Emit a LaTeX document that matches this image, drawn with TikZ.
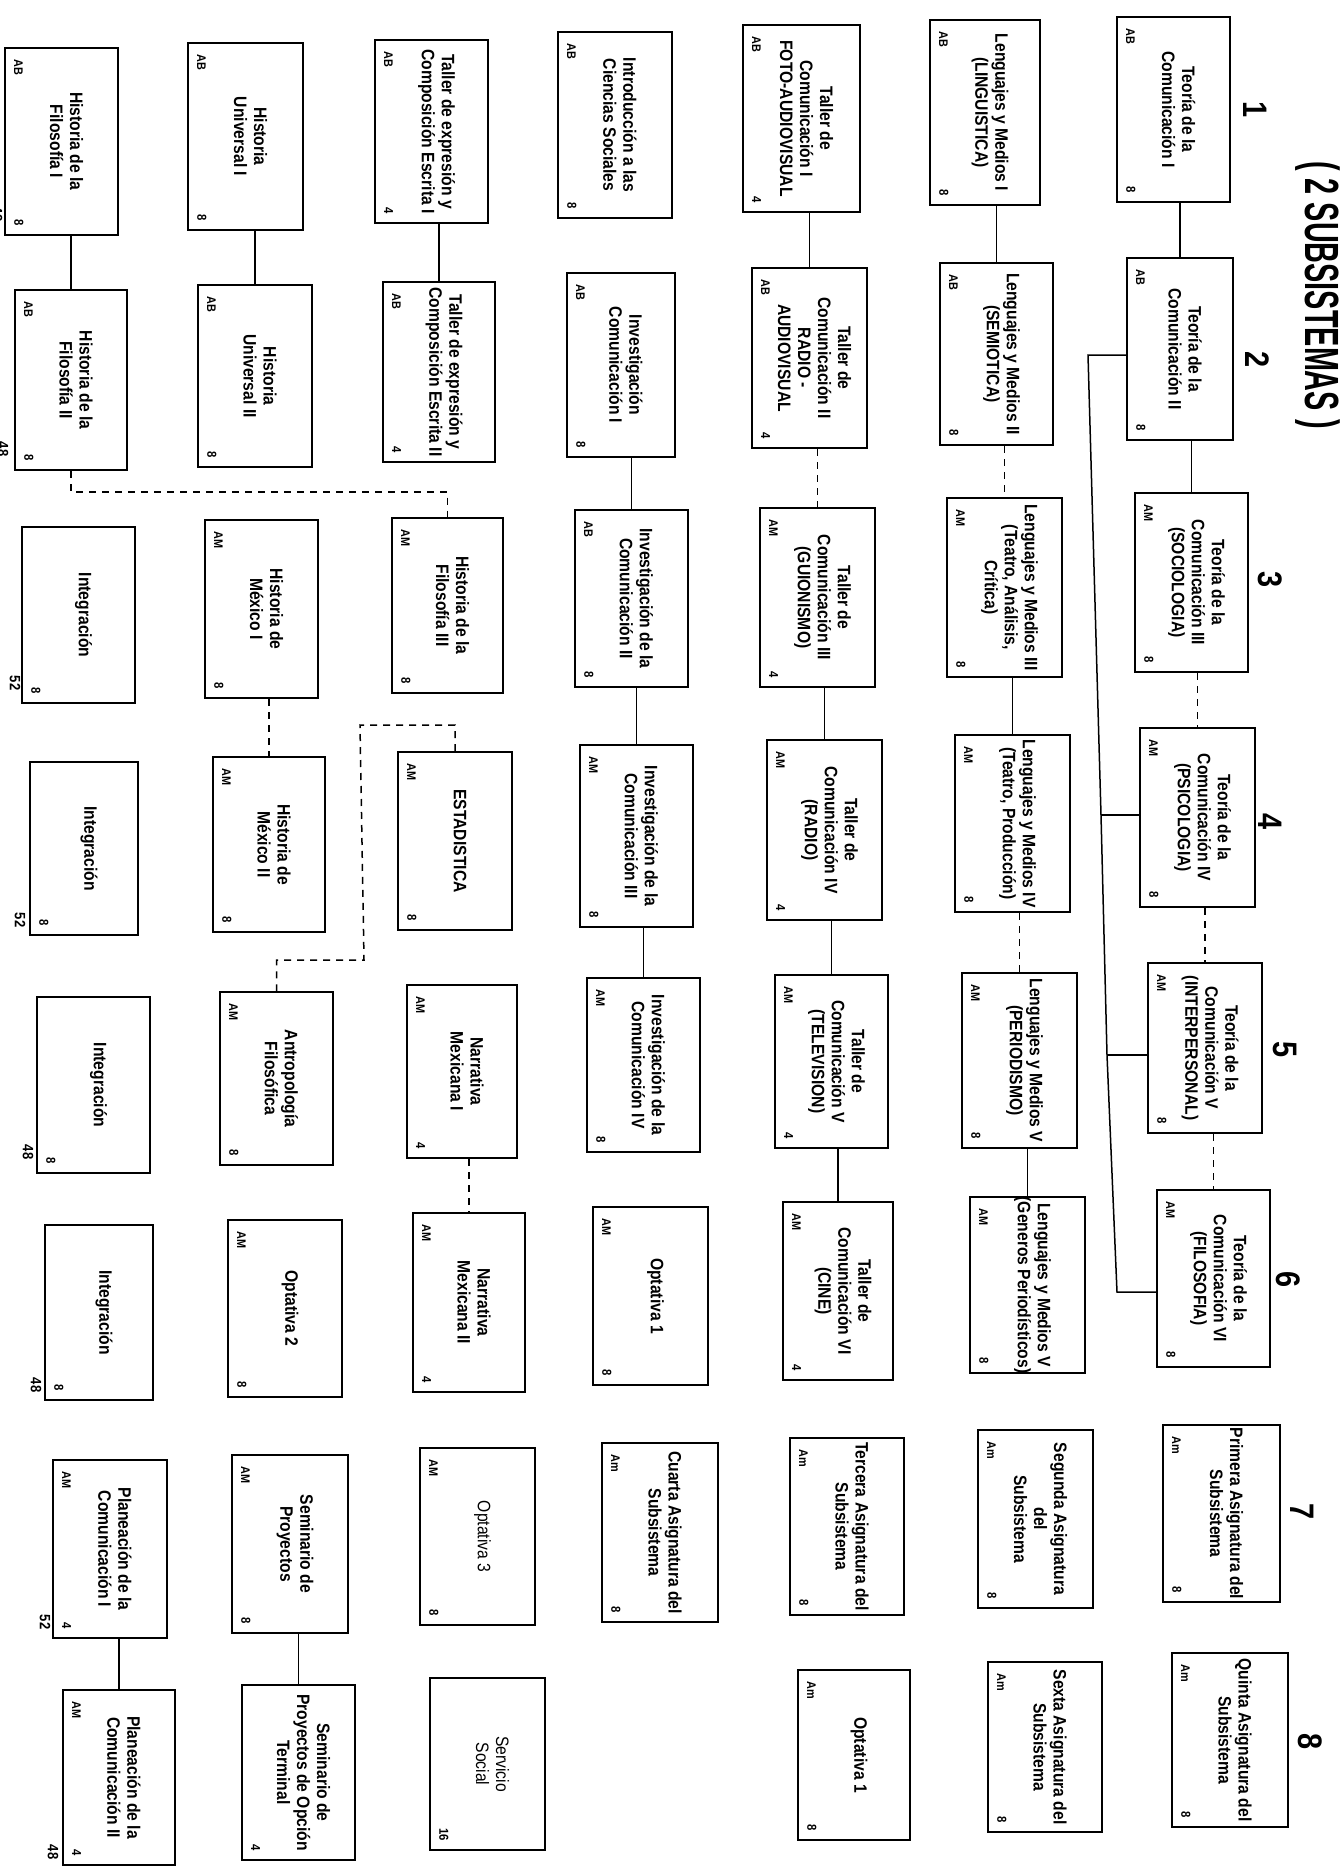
\documentclass[tikz,border=0pt]{standalone}
\usepackage{fontspec}
\setmainfont{Liberation Sans}
\newfontfamily\cond[FakeStretch=0.87]{Liberation Sans}
\newfontfamily\headf[FakeStretch=0.6]{Liberation Sans}
\newfontfamily\numf[FakeStretch=0.85]{Liberation Sans}
\usetikzlibrary{calc}
\newcommand\crs[8]{%
  \node[box, minimum width={(#4-#2)*1pt}, minimum height={(#5-#3)*1pt}] (#1) at ({(#2+#4)/2},{(#3+#5)/2}) {};
  \node[ttl] (#1t) at ([xshift=5pt]#1.center) {#6};
  \node[code] (#1c) at ([xshift=10pt,yshift=-12pt]#1.north west) {#7};
  \node[cred] (#1n) at ([xshift=10pt,yshift=10pt]#1.south west) {#8};}
\begin{document}
\begin{tikzpicture}[x=1pt,y=-1pt,
 box/.style={draw, line width=2pt, inner sep=0pt, fill=white},
 ttl/.style={rotate=-90, align=center, inner sep=0pt, font=\cond\bfseries\fontsize{18}{20}\selectfont},
 code/.style={rotate=-90, anchor=south west, inner sep=0pt, font=\cond\bfseries\fontsize{12.5}{13}\selectfont},
 cred/.style={rotate=-90, anchor=south east, inner sep=0pt, font=\cond\bfseries\fontsize{13}{13}\selectfont},
 tot/.style={rotate=-90, inner sep=0pt, font=\cond\bfseries\fontsize{15}{15}\selectfont},
 sem/.style={rotate=-90, inner sep=0pt, font=\numf\bfseries\fontsize{34}{34}\selectfont},
 conn/.style={line width=1.5pt},
 dconn/.style={line width=1.5pt, dash pattern=on 7pt off 6pt}]
\fill[white] (0,0) rectangle (1340,1866);
\useasboundingbox (0,0) rectangle (1340,1866);

% heading and semester numbers
\node[rotate=-90, inner sep=0pt, font=\headf\bfseries\fontsize{48}{48}\selectfont] (head) at (1318,295) {( 2 SUBSISTEMAS )};
\node[sem] (s1) at (1255,110) {1};
\node[sem] (s2) at (1257,360) {2};
\node[sem] (s3) at (1270,580) {3};
\node[sem] (s4) at (1270,822) {4};
\node[sem] (s5) at (1285,1050) {5};
\node[sem] (s6) at (1288,1280) {6};
\node[sem] (s7) at (1302,1512) {7};
\node[sem] (s8) at (1310,1742) {8};

% Teoria column
\crs{T1}{1117}{17}{1230}{202}{Teoría de la\\Comunicación I}{AB}{8}
\crs{T2}{1127}{258}{1233}{440}{Teoría de la\\Comunicación II}{AB}{8}
\crs{T3}{1135}{493}{1248}{672}{Teoría de la\\Comunicación III\\(SOCIOLOGIA)}{AM}{8}
\crs{T4}{1140}{728}{1255}{907}{Teoría de la\\Comunicación IV\\(PSICOLOGIA)}{AM}{8}
\crs{T5}{1148}{963}{1262}{1133}{Teoría de la\\Comunicación V\\(INTERPERSONAL)}{AM}{8}
\crs{T6}{1157}{1190}{1270}{1367}{Teoría de la\\Comunicación VI\\(FILOSOFIA)}{AM}{8}
\crs{T7}{1163}{1425}{1280}{1602}{Primera Asignatura del\\Subsistema}{Am}{8}
\crs{T8}{1172}{1653}{1288}{1827}{Quinta Asignatura del\\Subsistema}{Am}{8}

% Lenguajes column
\crs{L1}{930}{20}{1040}{205}{Lenguajes y Medios I\\(LINGUISTICA)}{AB}{8}
\crs{L2}{940}{263}{1053}{445}{Lenguajes y Medios II\\(SEMIOTICA)}{AB}{8}
\crs{L3}{947}{498}{1062}{677}{Lenguajes y Medios III\\(Teatro, Análisis,\\Crítica)}{AM}{8}
\crs{L4}{955}{735}{1070}{912}{Lenguajes y Medios IV\\(Teatro, Producción)}{AM}{8}
\crs{L5}{962}{973}{1077}{1148}{Lenguajes y Medios V\\(PERIODISMO)}{AM}{8}
\crs{L6}{970}{1197}{1085}{1373}{Lenguajes y Medios V\\(Generos Periodísticos)}{AM}{8}
\crs{L7}{978}{1430}{1093}{1608}{Segunda Asignatura\\del\\Subsistema}{Am}{8}
\crs{L8}{988}{1662}{1102}{1832}{Sexta Asignatura del\\Subsistema}{Am}{8}

% Taller column
\crs{W1}{743}{25}{860}{212}{Taller de\\Comunicación I\\FOTO-AUDIOVISUAL}{AB}{4}
\crs{W2}{752}{268}{867}{448}{Taller de\\Comunicación II\\RADIO -\\AUDIOVISUAL}{AB}{4}
\crs{W3}{760}{508}{875}{687}{Taller de\\Comunicación III\\(GUIONISMO)}{AM}{4}
\crs{W4}{767}{740}{882}{920}{Taller de\\Comunicación IV\\(RADIO)}{AM}{4}
\crs{W5}{775}{975}{888}{1148}{Taller de\\Comunicación V\\(TELEVISION)}{AM}{4}
\crs{W6}{783}{1202}{893}{1380}{Taller de\\Comunicación VI\\(CINE)}{AM}{4}
\crs{W7}{790}{1438}{904}{1615}{Tercera Asignatura del\\Subsistema}{Am}{8}
\crs{W8}{798}{1670}{910}{1840}{Optativa 1}{Am}{8}

% Investigacion column
\crs{I1}{558}{32}{672}{218}{Introducción a las\\Ciencias Sociales}{AB}{8}
\crs{I2}{567}{273}{675}{457}{Investigación\\Comunicación I}{AB}{8}
\crs{I3}{575}{510}{688}{687}{Investigación de la\\Comunicación II}{AB}{8}
\crs{I4}{580}{745}{693}{927}{Investigación de la\\Comunicación III}{AM}{8}
\crs{I5}{587}{978}{700}{1152}{Investigación de la\\Comunicación IV}{AM}{8}
\crs{I6}{593}{1207}{708}{1385}{Optativa 1}{AM}{8}
\crs{I7}{602}{1443}{718}{1622}{Cuarta Asignatura del\\Subsistema}{Am}{8}

% Expresion column
\crs{E1}{375}{40}{488}{223}{Taller de expresión y\\Composición Escrita I}{AB}{4}
\crs{E2}{383}{282}{495}{462}{Taller de expresión y\\Composición Escrita II}{AB}{4}
\crs{E3}{392}{518}{503}{693}{Historia de la\\Filosofía III}{AM}{8}
\crs{E4}{398}{752}{512}{930}{ESTADISTICA}{AM}{8}
\crs{E5}{407}{985}{517}{1158}{Narrativa\\Mexicana I}{AM}{4}
\crs{E6}{413}{1213}{525}{1392}{Narrativa\\Mexicana II}{AM}{4}
\crs{E7}{420}{1448}{535}{1625}{\mdseries Optativa 3}{AM}{8}
\crs{E8}{430}{1678}{545}{1850}{\mdseries Servicio\\\mdseries Social}{}{16}

% Historia column
\crs{H1}{188}{43}{303}{230}{Historia\\Universal I}{AB}{8}
\crs{H2}{198}{285}{312}{467}{Historia\\Universal II}{AB}{8}
\crs{H3}{205}{520}{318}{698}{Historia de\\México I}{AM}{8}
\crs{H4}{213}{757}{325}{932}{Historia de\\México II}{AM}{8}
\crs{H5}{220}{992}{333}{1165}{Antropología\\Filosófica}{AM}{8}
\crs{H6}{228}{1220}{342}{1397}{Optativa 2}{AM}{8}
\crs{H7}{232}{1455}{348}{1633}{Seminario de\\Proyectos}{AM}{8}
\crs{H8}{242}{1685}{355}{1860}{Seminario de\\Proyectos de Opción\\Terminal}{}{4}

% Filosofia column
\crs{F1}{5}{48}{118}{235}{Historia de la\\Filosofía I}{AB}{8}
\crs{F2}{15}{290}{127}{470}{Historia de la\\Filosofía II}{AB}{8}
\crs{F3}{22}{527}{135}{703}{Integración}{}{8}
\crs{F4}{30}{762}{138}{935}{Integración}{}{8}
\crs{F5}{37}{997}{150}{1173}{Integración}{}{8}
\crs{F6}{45}{1225}{153}{1400}{Integración}{}{8}
\crs{F7}{53}{1460}{167}{1638}{Planeación de la\\Comunicación I}{AM}{4}
\crs{F8}{63}{1690}{175}{1865}{Planeación de la\\Comunicación II}{AM}{4}

% semester totals
\node[tot] (tt1) at (-3,214) {48};
\node[tot] (tt2) at (3,449) {48};
\node[tot] (tt3) at (15,683) {52};
\node[tot] (tt4) at (20,920) {52};
\node[tot] (tt5) at (28,1152) {48};
\node[tot] (tt6) at (36,1385) {48};
\node[tot] (tt7) at (45,1622) {52};
\node[tot] (tt8) at (53,1852) {48};

% solid connectors (vertical, at the lower box's centre line)
\foreach \a/\b in {T1/T2,T2/T3,L1/L2,L3/L4,L5/L6,W1/W2,W3/W4,W4/W5,W5/W6,I2/I3,I3/I4,I4/I5,E1/E2,H1/H2,F1/F2,F7/F8,H7/H8}
  \draw[conn] (\a.south -| \b.north) -- (\b.north);
% dashed connectors
\foreach \a/\b in {T3/T4,T4/T5,T5/T6,L2/L3,L4/L5,W2/W3,H3/H4,E5/E6}
  \draw[dconn] (\a.south -| \b.north) -- (\b.north);

% Teoria bracket
\coordinate (b1) at (1088,355);
\coordinate (b2) at (1101,815);
\coordinate (b3) at (1107,1055);
\coordinate (b4) at (1117,1292);
\draw[conn] (T2.west |- b1) -- (b1) -- (b2) -- (b3) -- (b4) -- (b4 -| T6.west);
\draw[conn] (b2) -- (b2 -| T4.west);
\draw[conn] (b3) -- (b3 -| T5.west);

% dashed Filosofia II -> Filosofia III
\coordinate (d1) at (65,492);
\draw[dconn] (F2.south) -- (F2.south |- d1) -- (d1 -| E3.north) -- (E3.north);

% dashed ESTADISTICA -> Antropologia
\coordinate (e1) at (360,725);
\coordinate (e2) at (364,960);
\draw[dconn] (E4.north) -- (E4.north |- e1) -- (e1) -- (e2) -- (e2 -| H5.north) -- (H5.north);
\end{tikzpicture}
\end{document}
